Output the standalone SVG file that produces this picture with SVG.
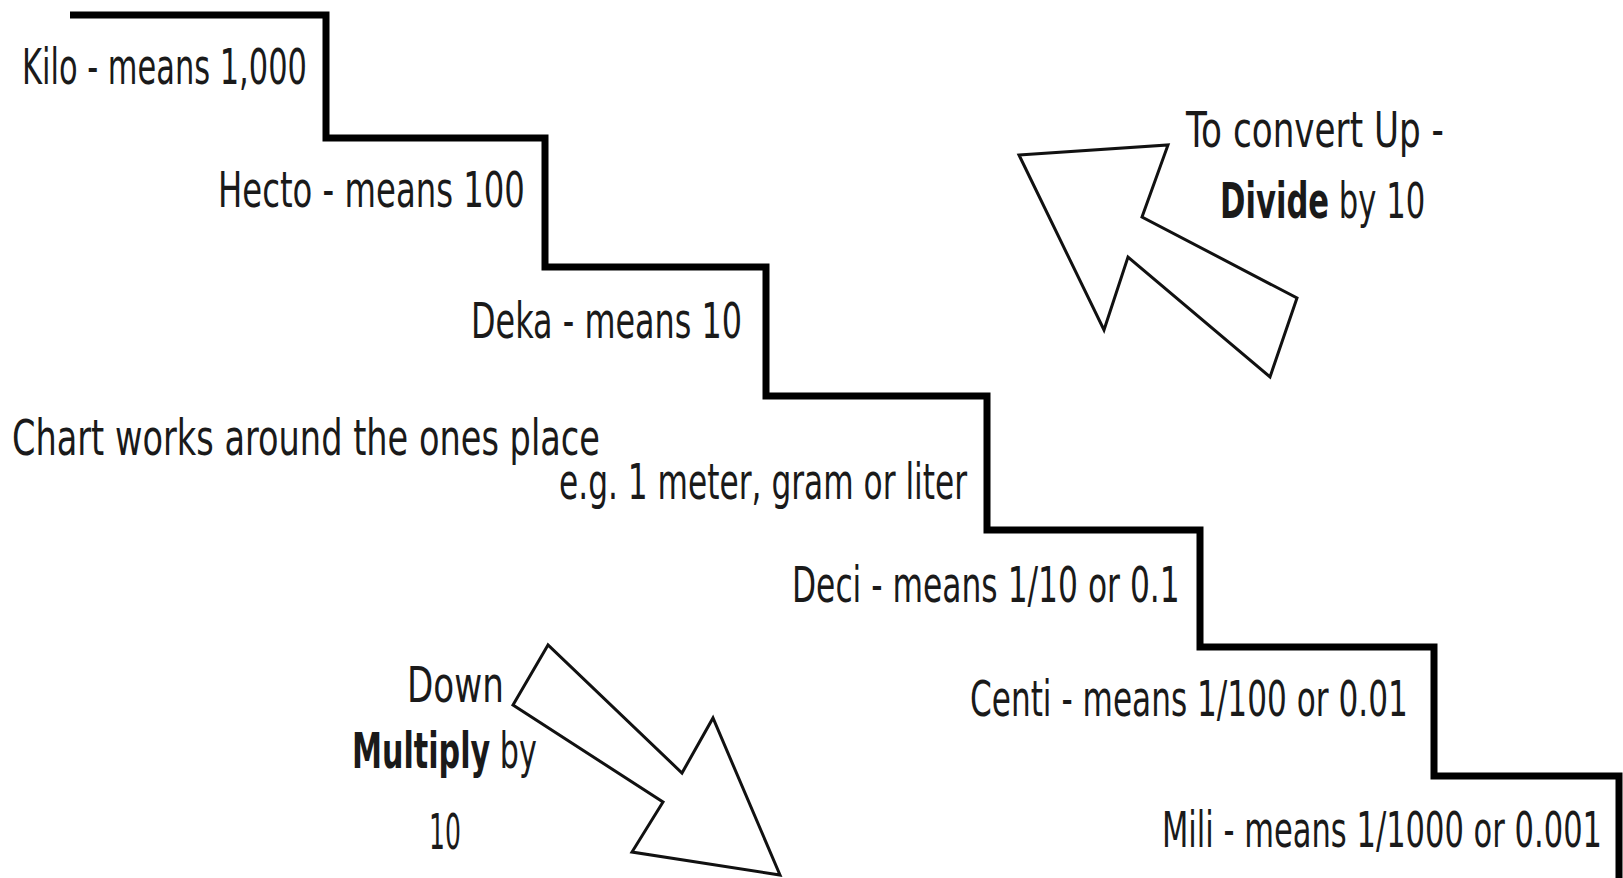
<svg xmlns="http://www.w3.org/2000/svg" width="1623" height="878" viewBox="0 0 1623 878">
<style>
.t{font-family:"DejaVu Sans","Liberation Sans",sans-serif;font-size:50px;fill:#1a1a1a}
.b{font-weight:bold}
.stair{fill:none;stroke:#000;stroke-width:7;stroke-linejoin:miter}
.arrow{fill:#fff;stroke:#111;stroke-width:3;stroke-linejoin:miter}
</style>
<rect width="1623" height="878" fill="#fff"/>
<g id="staircase">
<path class="stair" d="M70,15 H326 V138 H545 V267 H766 V396 H987 V530 H1200 V647 H1434 V776 H1619 V878"/>
</g>
<g id="kilo"><text class="t" transform="translate(22,84) scale(0.55,1)" textLength="518" lengthAdjust="spacingAndGlyphs">Kilo - means 1,000</text></g>
<g id="hecto"><text class="t" transform="translate(218,207) scale(0.55,1)" textLength="558" lengthAdjust="spacingAndGlyphs">Hecto - means 100</text></g>
<g id="deka"><text class="t" transform="translate(471,338) scale(0.55,1)" textLength="493" lengthAdjust="spacingAndGlyphs">Deka - means 10</text></g>
<g id="ones">
<text class="t" transform="translate(12,455) scale(0.55,1)" textLength="1069" lengthAdjust="spacingAndGlyphs">Chart works around the ones place</text>
<text class="t" transform="translate(559,499) scale(0.55,1)" textLength="742" lengthAdjust="spacingAndGlyphs">e.g. 1 meter, gram or liter</text>
</g>
<g id="deci"><text class="t" transform="translate(792,602) scale(0.55,1)" textLength="705" lengthAdjust="spacingAndGlyphs">Deci - means 1/10 or 0.1</text></g>
<g id="centi"><text class="t" transform="translate(970,716) scale(0.55,1)" textLength="796" lengthAdjust="spacingAndGlyphs">Centi - means 1/100 or 0.01</text></g>
<g id="mili"><text class="t" transform="translate(1162,847) scale(0.55,1)" textLength="800" lengthAdjust="spacingAndGlyphs">Mili - means 1/1000 or 0.001</text></g>
<g id="up-arrow">
<polygon class="arrow" points="1019,155 1168,145 1142,217 1297,298 1270,377 1128,257 1104,330"/>
</g>
<g id="up-label">
<text class="t" transform="translate(1186,147) scale(0.55,1)" textLength="469" lengthAdjust="spacingAndGlyphs">To convert Up -</text>
<text class="t" transform="translate(1220,218) scale(0.55,1)" textLength="373" lengthAdjust="spacingAndGlyphs"><tspan class="b">Divide</tspan> by 10</text>
</g>
<g id="down-arrow">
<polygon class="arrow" points="548,645 513,705 663,802 632,852 780,875 713,718 682,773"/>
</g>
<g id="down-label">
<text class="t" transform="translate(407,702) scale(0.55,1)" textLength="176" lengthAdjust="spacingAndGlyphs">Down</text>
<text class="t" transform="translate(352,768) scale(0.55,1)" textLength="336" lengthAdjust="spacingAndGlyphs"><tspan class="b">Multiply</tspan> by</text>
<text class="t" transform="translate(429,849) scale(0.55,1)" textLength="58" lengthAdjust="spacingAndGlyphs">10</text>
</g>
</svg>
